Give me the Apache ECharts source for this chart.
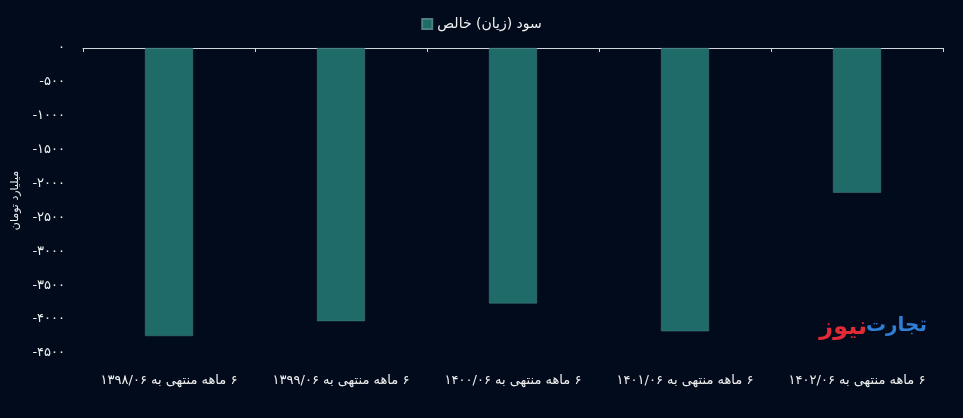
<!DOCTYPE html>
<html>
<head>
<meta charset="utf-8">
<script src="https://cdn.jsdelivr.net/npm/echarts@6/dist/echarts.min.js"></script>
<style>
  html, body { margin: 0; padding: 0; background: #020b1b; }
  #eChart { width: 963px; height: 418px; }
</style>
</head>
<body>
<div id="eChart"></div>
<script>
// data (billion toman)
var periods = ['۱۳۹۸/۰۶', '۱۳۹۹/۰۶', '۱۴۰۰/۰۶', '۱۴۰۱/۰۶', '۱۴۰۲/۰۶'];
var netProfit = [-4250, -4030, -3770, -4180, -2135];
var seriesName = 'سود (زیان) خالص';
var yAxisName = 'میلیارد تومان';

var faDigits = '۰۱۲۳۴۵۶۷۸۹';
function toFa(n) {
    var s = String(Math.abs(n)).replace(/[0-9]/g, function (d) { return faDigits[+d]; });
    return (n < 0 ? '-' : '') + s;
}
function rtl(s) { return '\u202B' + s + '\u202C'; }

var fontFamily = '"DejaVu Sans", "Noto Sans", sans-serif';

var option = {
    backgroundColor: '#020b1b',
    textStyle: { fontFamily: fontFamily },
    legend: {
        top: 12,
        left: 'center',
        itemWidth: 10,
        itemHeight: 10,
        icon: 'rect',
        textStyle: { color: '#f0f0f0', fontSize: 14, fontFamily: fontFamily },
        formatter: function (name) { return rtl(name); },
        data: [seriesName]
    },
    grid: {
        left: 83,
        right: 20,
        top: 48,
        bottom: 65,
        containLabel: false
    },
    xAxis: {
        type: 'category',
        data: periods.map(function (p) { return '۶ ماهه منتهی به ' + p; }),
        axisLine: { lineStyle: { color: '#d0d4dc', width: 1 } },
        axisTick: { show: true, alignWithLabel: false, length: 4, lineStyle: { color: '#d0d4dc' } },
        axisLabel: {
            color: '#f0f0f0',
            fontSize: 13,
            fontFamily: fontFamily,
            margin: 21,
            interval: 0,
            hideOverlap: false,
            formatter: function (v) { return rtl(v); }
        }
    },
    yAxis: {
        type: 'value',
        min: -4500,
        max: 0,
        interval: 500,
        name: yAxisName,
        nameLocation: 'middle',
        nameGap: 62,
        nameTextStyle: { color: '#f0f0f0', fontSize: 11, fontFamily: fontFamily },
        splitLine: { show: false },
        axisLine: { show: false },
        axisTick: { show: false },
        axisLabel: {
            color: '#f0f0f0',
            fontSize: 13,
            margin: 18,
            fontFamily: fontFamily,
            formatter: function (v) { return toFa(v); }
        }
    },
    graphic: [
        {
            type: 'text',
            right: 36,
            top: 316,
            style: { text: 'تجارت', fill: '#2f7fd6', font: 'bold 20px ' + fontFamily }
        },
        {
            type: 'text',
            right: 96,
            top: 316,
            style: { text: 'نیوز', fill: '#e02a36', font: 'bold 24px ' + fontFamily }
        }
    ],
    series: [
        {
            name: seriesName,
            type: 'bar',
            barWidth: 48,
            itemStyle: { color: '#1e6b6a', borderColor: '#4c7f80', borderWidth: 0.5 },
            data: netProfit
        }
    ]
};

var _eChart = echarts.init(document.getElementById('eChart'));
_eChart.setOption(option);
</script>
</body>
</html>
